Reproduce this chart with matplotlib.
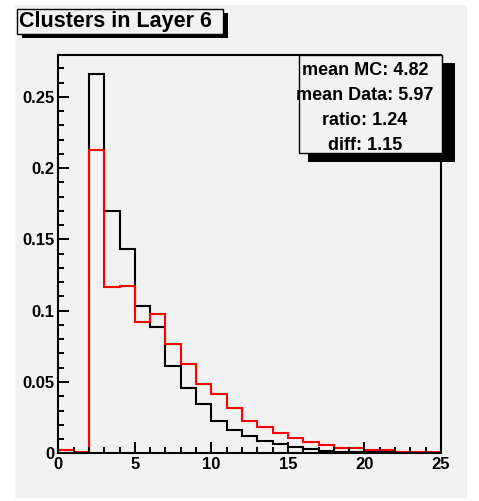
import matplotlib
matplotlib.use("Agg")
import matplotlib.pyplot as plt
import numpy as np
from matplotlib.patches import Rectangle
from matplotlib.ticker import MultipleLocator

# ---- data ----
bin_edges = list(range(0, 26))
mc_values = [0.0005, 0.0003, 0.266, 0.170, 0.1435, 0.1033, 0.0888, 0.0612, 0.0456, 0.0344,
             0.0226, 0.0165, 0.0120, 0.0086, 0.0062, 0.0046, 0.0030, 0.0018, 0.0010, 0.0010,
             0.0010, 0.0010, 0.0002, 0.0001, 0.0001]
data_values = [0.0020, 0.0008, 0.2127, 0.1164, 0.1173, 0.0918, 0.0977, 0.0764, 0.0626, 0.0484,
               0.0414, 0.0318, 0.0224, 0.0187, 0.0140, 0.0108, 0.0076, 0.0058, 0.0035, 0.0035,
               0.0025, 0.0025, 0.0007, 0.0007, 0.0007]
title_text = "Clusters in Layer 6"
stats_lines = ["mean MC: 4.82", "mean Data: 5.97", "ratio: 1.24", "diff: 1.15"]
x_ticks = [0, 5, 10, 15, 20, 25]
y_ticks = [0, 0.05, 0.1, 0.15, 0.2, 0.25]
y_tick_labels = ["0", "0.05", "0.1", "0.15", "0.2", "0.25"]

W, H = 479, 501
BG = "#f2f2f2"
FONT = "Liberation Sans"

fig = plt.figure(figsize=(W / 100, H / 100), dpi=100, facecolor="white")

def fx(px):
    return px / W

def fy(py):
    return 1 - py / H

def frect(x0, y0, x1, y1, **kw):
    r = Rectangle((fx(x0), fy(y1)), fx(x1) - fx(x0), fy(y0) - fy(y1),
                  transform=fig.transFigure, **kw)
    fig.add_artist(r)
    return r

# canvas background
frect(15, 5, 467, 498, facecolor=BG, edgecolor="none", zorder=0)

# axes frame
L, R, T, B = 58.3, 441.0, 54.7, 453.3
ax = fig.add_axes([fx(L), fy(B), fx(R) - fx(L), fy(T) - fy(B)])
ax.set_facecolor(BG)
ax.stairs(mc_values, bin_edges, color="black", linewidth=1.5, baseline=0)
ax.stairs(data_values, bin_edges, color="#ff0000", linewidth=1.5, baseline=0)
ax.set_xlim(0, 25)
ax.set_ylim(0, 0.2795)
ax.set_xticks(x_ticks)
ax.set_xticklabels([str(v) for v in x_ticks])
ax.set_yticks(y_ticks)
ax.set_yticklabels(y_tick_labels)
ax.xaxis.set_minor_locator(MultipleLocator(1))
ax.yaxis.set_minor_locator(MultipleLocator(0.01))
ax.tick_params(which="major", direction="in", length=8, width=1.4,
               top=False, right=False, labelsize=12, pad=3)
ax.tick_params(which="minor", direction="in", length=4, width=1.4,
               top=False, right=False)
for lab in ax.get_xticklabels() + ax.get_yticklabels():
    lab.set_fontfamily(FONT)
    lab.set_fontweight("bold")
for s in ax.spines.values():
    s.set_linewidth(1.5)

# title box with shadow
frect(22, 13, 228, 38, facecolor="black", edgecolor="none", zorder=5)
frect(17, 9, 222.7, 34, facecolor=BG, edgecolor="black", linewidth=1.0, zorder=6)
fig.text(fx(19), fy(21.5), title_text, ha="left", va="center",
         fontsize=15.5, fontweight="bold", family=FONT, zorder=7)

# stats box with shadow
frect(308, 63, 455, 161.5, facecolor="black", edgecolor="none", zorder=5)
frect(299.3, 55, 441.7, 153.3, facecolor=BG, edgecolor="black", linewidth=1.0, zorder=6)
for i, line in enumerate(stats_lines):
    fig.text(fx(365), fy(70.7 + i * 24.8), line, ha="center", va="center",
             fontsize=13, fontweight="bold", family=FONT, zorder=7)

fig.savefig("out.png", dpi=100, facecolor="white")
